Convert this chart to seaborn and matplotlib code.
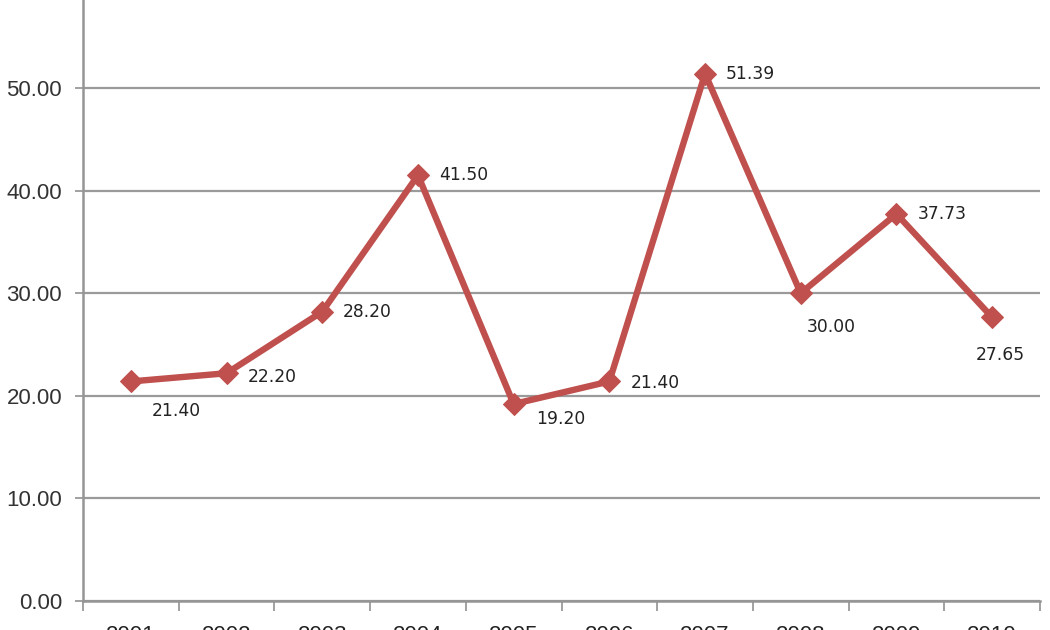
import pandas as pd
import matplotlib
matplotlib.use("Agg")
from matplotlib import pyplot as plt
from matplotlib.ticker import FixedLocator, FormatStrFormatter
import seaborn as sns

# chart values
years = ["2001", "2002", "2003", "2004", "2005", "2006", "2007", "2008", "2009", "2010"]
values = [21.40, 22.20, 28.20, 41.50, 19.20, 21.40, 51.39, 30.00, 37.73, 27.65]
# where each value label sits relative to its point (pixels)
label_offsets = [(21, -30), (21, -4), (21, 0), (21, 0), (22, -15),
                 (21, -2), (21, 0), (31, -34), (21, 0), (8, -38)]
label_align = ["left", "left", "left", "left", "left",
               "left", "left", "center", "left", "center"]

df = pd.DataFrame({"year": years, "value": values})
df["pos"] = range(len(years))

sns.set_style("white")
plt.rcParams["font.family"] = ["Liberation Sans", "DejaVu Sans"]

fig = plt.figure(figsize=(10.5, 6.3), dpi=100)
ax = fig.add_axes([83 / 1050, 29 / 630, 957 / 1050, 601 / 630])

red = "#C0504D"
sns.lineplot(data=df, x="pos", y="value", ax=ax, color=red, linewidth=4.6,
             marker="D", markersize=11, markeredgecolor=red, markerfacecolor=red)

# value labels
for i, (x, v) in enumerate(zip(df["pos"], values)):
    ax.annotate(f"{v:.2f}", (x, v), xytext=label_offsets[i], textcoords="offset pixels",
                ha=label_align[i], va="center", fontsize=12.3, color="#222222",
                family="DejaVu Sans")

# axes styling
ax.set_xlim(-0.5, len(years) - 0.5)
ax.set_ylim(0, 58.58)
ax.set_yticks([0, 10, 20, 30, 40, 50])
ax.yaxis.set_major_formatter(FormatStrFormatter("%.2f"))
ax.yaxis.grid(True, color="#9a9a9a", linewidth=1.6)
ax.set_axisbelow(True)

ax.set_xticks(df["pos"])
ax.set_xticklabels(years)
ax.xaxis.set_minor_locator(FixedLocator([i - 0.5 for i in range(len(years) + 1)]))
ax.tick_params(axis="x", which="major", bottom=True, length=0, pad=17,
               labelsize=16, labelcolor="#222222")
ax.tick_params(axis="x", which="minor", bottom=True, length=7, width=1.3,
               color="#9a9a9a", direction="out")
ax.tick_params(axis="y", left=True, length=6, width=1.3, color="#9a9a9a", direction="out",
               pad=9, labelsize=16, labelcolor="#333333")

for side in ["top", "right"]:
    ax.spines[side].set_visible(False)
for side in ["left", "bottom"]:
    ax.spines[side].set_color("#959595")
    ax.spines[side].set_linewidth(1.8)

ax.set_xlabel("")
ax.set_ylabel("")

plt.savefig("out.png", dpi=100)
